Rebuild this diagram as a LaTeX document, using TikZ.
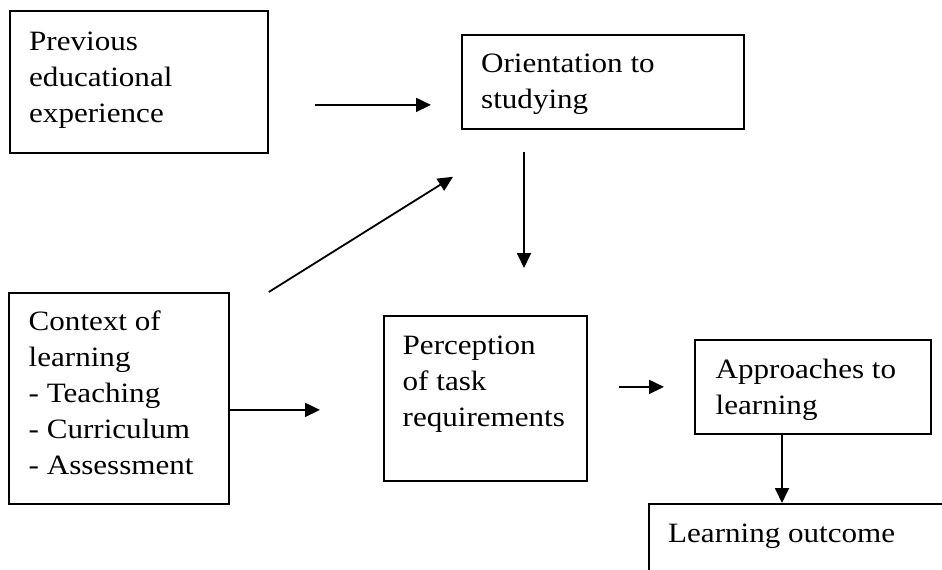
\documentclass[tikz,border=0pt]{standalone}
\usepackage{fontspec}
\setmainfont[FakeStretch=1.11]{Liberation Serif}
\usetikzlibrary{arrows.meta,calc}
\begin{document}
\begin{tikzpicture}[x=1pt,y=-1pt,
  box/.style={draw,line width=1.8pt,inner sep=0pt,anchor=north west},
  txt/.style={inner sep=0pt,anchor=north west,align=left,font=\fontsize{28}{36}\selectfont},
  arr/.style={line width=1.8pt,-{Triangle[length=15pt,width=14pt]}}]
\useasboundingbox (0,0) rectangle (942,570);
\clip (0,0) rectangle (942,570);
% boxes
\node[box,minimum width=258pt,minimum height=142pt] (prev) at (9,10) {};
\node[box,minimum width=282pt,minimum height=94pt] (orient) at (461,34) {};
\node[box,minimum width=220pt,minimum height=211pt] (context) at (8,292) {};
\node[box,minimum width=203pt,minimum height=165pt] (percep) at (383,315) {};
\node[box,minimum width=236pt,minimum height=94pt] (approach) at (694,339) {};
\node[box,minimum width=400pt,minimum height=150pt] (outcome) at (648,503) {};
% texts
\node[txt] (prevt) at (29,31.4) {Previous\\educational\\experience};
\node[txt] (orientt) at (481,54) {Orientation to\\studying};
\node[txt] (contextt) at (28.5,311) {Context of\\learning\\- Teaching\\- Curriculum\\- Assessment};
\node[txt] (percept) at (402.5,336) {Perception\\of task\\requirements};
\node[txt] (approacht) at (715.5,359) {Approaches to\\learning};
\node[txt] (outcomet) at (668,523.5) {Learning outcome};
% connectors
\draw[arr] ($(prev.east)+(46,23)$) -- ($(orient.west)+(-30,23)$);
\draw[arr] ($(context.north east)+(39,0)$) -- ($(orient.south west)+(-8,47)$);
\draw[arr] ($(orient.south west)+(63,22)$) -- ($(percep.north west)+(141,-47)$);
\draw[arr] ($(context.east)+(0,11.5)$) -- ($(percep.west)+(-63,11.5)$);
\draw[arr] ($(percep.east)+(31,-11.5)$) -- ($(approach.west)+(-30,0)$);
\draw[arr] ($(approach.south west)+(88,0)$) -- ($(outcome.north west)+(134,0)$);
\end{tikzpicture}
\end{document}
